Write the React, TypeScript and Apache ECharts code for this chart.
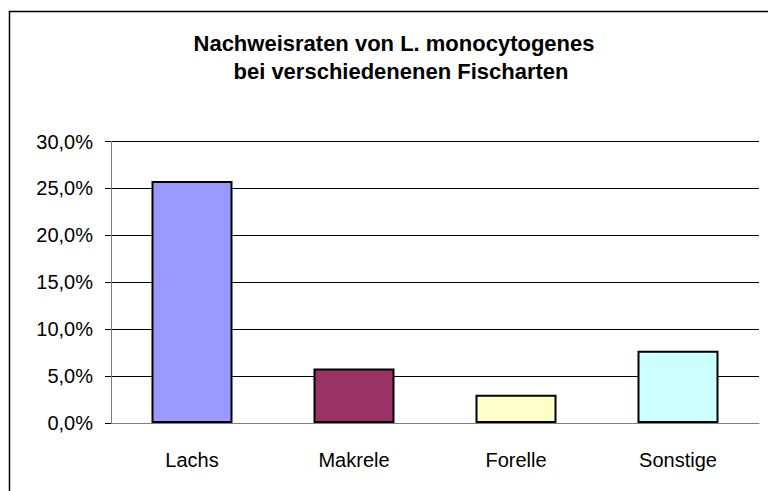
import React, { useEffect, useRef } from "react";
import * as echarts from "echarts";

const categories = ["Lachs", "Makrele", "Forelle", "Sonstige"];
const values = [25.8, 5.8, 3.0, 7.7];
const barColors = ["#9999FF", "#993366", "#FFFFCC", "#CCFFFF"];
const titleLines = ["Nachweisraten von L. monocytogenes", "bei verschiedenenen Fischarten"];

export default function App() {
  const ref = useRef<HTMLDivElement>(null);
  useEffect(() => {
    if (!ref.current) return;
    const chart = echarts.init(ref.current, null, { renderer: "svg" });
    const font = "Liberation Sans, Arial, sans-serif";
    const titleStyle = {
      fontFamily: font,
      fontSize: 22,
      fontWeight: "bold",
      color: "#000",
      lineHeight: 28,
    };
    chart.setOption({
      animation: false,
      backgroundColor: "#ffffff",
      title: [
        { text: titleLines[0], left: 394, top: 29, textAlign: "center", textStyle: titleStyle, padding: 0 },
        { text: titleLines[1], left: 401, top: 57, textAlign: "center", textStyle: titleStyle, padding: 0 },
      ],
      graphic: [
        {
          type: "rect",
          shape: { x: 9.5, y: 11.5, width: 900, height: 600 },
          style: { fill: "none", stroke: "#000", lineWidth: 1.5 },
          silent: true,
          z: 100,
        },
      ],
      grid: { left: 111, top: 141.5, right: 9, bottom: 68, containLabel: false },
      xAxis: {
        type: "category",
        data: categories,
        axisLine: { lineStyle: { color: "#808080", width: 1 } },
        axisTick: { show: false },
        axisLabel: { margin: 27, fontFamily: font, fontSize: 20, color: "#000" },
      },
      yAxis: {
        type: "value",
        min: 0,
        max: 30,
        interval: 5,
        axisLine: { show: true, lineStyle: { color: "#808080", width: 1 } },
        axisTick: { show: true, length: 6, lineStyle: { color: "#000" } },
        splitLine: { lineStyle: { color: "#000", width: 1 } },
        axisLabel: {
          margin: 18,
          fontFamily: font,
          fontSize: 20,
          color: "#000",
          formatter: (v: number) => v.toFixed(1).replace(".", ",") + "%",
        },
      },
      series: [
        {
          type: "bar",
          barWidth: "50%",
          data: values.map((v, i) => ({
            value: v,
            itemStyle: { color: barColors[i], borderColor: "#000", borderWidth: 2 },
          })),
        },
      ],
    });
    return () => chart.dispose();
  }, []);
  return (
    <div
      ref={ref}
      style={{ position: "fixed", left: 0, top: 0, width: 768, height: 491 }}
    />
  );
}
